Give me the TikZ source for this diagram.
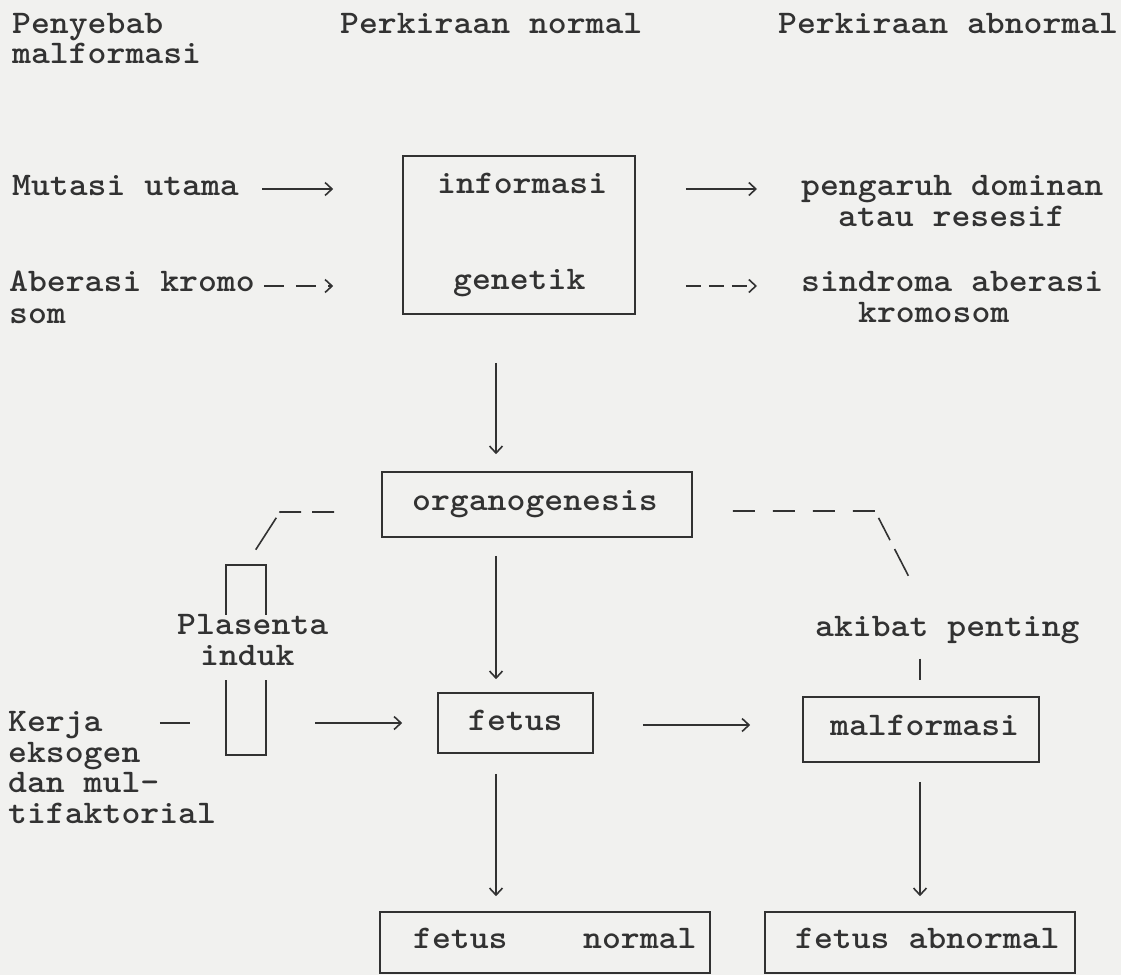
\documentclass[tikz,border=0pt]{standalone}
\usepackage{graphicx}
\usetikzlibrary{arrows.meta}
\definecolor{ink}{RGB}{50,50,50}
\definecolor{paper}{RGB}{241,241,239}
\newcommand{\tw}[1]{\scalebox{1.09}[1]{#1}}
\begin{document}
\begin{tikzpicture}[x=1pt,y=-1pt,
  every node/.style={inner sep=0pt, text=ink, font=\fontsize{33}{33}\selectfont\ttfamily\bfseries},
  lbl/.style={anchor=base west},
  box/.style={draw=ink, line width=1.6pt},
  ln/.style={draw=ink, line width=1.6pt},
  arr/.style={ln, -{Straight Barb[length=7pt,width=13pt]}},
  dsh/.style={dash pattern=on 15pt off 8pt},
  dshtwo/.style={dash pattern=on 20pt off 12pt},
  dshleft/.style={ln, dash pattern=on 22pt off 11pt on 22pt off 6pt on 40pt off 40pt},
  dshright/.style={ln, dash pattern=on 22pt off 18pt on 22pt off 18pt on 22pt off 18pt on 22pt off 8pt on 25pt off 10pt on 30pt off 40pt}]
\fill[paper] (0,0) rectangle (1121,975);
\useasboundingbox (0,0) rectangle (1121,975);

% header
\node[lbl] (h1a) at (12,33) {\tw{Penyebab}};
\node[lbl] (h1b) at (12,63) {\tw{malformasi}};
\node[lbl] (h2) at (340,33) {\tw{Perkiraan normal}};
\node[lbl] (h3) at (778,33) {\tw{Perkiraan abnormal}};

% row coordinates and columns
\coordinate (r1) at (0,189);
\coordinate (r2) at (0,286);
\coordinate (r3) at (0,725);
\coordinate (r3b) at (0,723);
\coordinate (c1) at (496,0);
\coordinate (c2) at (920,0);

% genetic information
\node[lbl] (mut) at (12,195) {\tw{Mutasi utama}};
\node[lbl] (abe) at (9,291) {\tw{Aberasi kromo}};
\node[lbl] (abe2) at (9,323) {\tw{som}};
\node[box, minimum width=232pt, minimum height=158pt] (info) at (519,235) {};
\node[lbl] (infoA) at (437,193) {\tw{informasi}};
\node[lbl] (infoB) at (453,289) {\tw{genetik}};
\node[lbl] (peng) at (801,195) {\tw{pengaruh dominan}};
\node[lbl] (atau) at (838,226) {\tw{atau resesif}};
\node[lbl] (sind) at (801,291) {\tw{sindroma aberasi}};
\node[lbl] (krom) at (858,322) {\tw{kromosom}};

\draw[arr, shorten <=23pt, shorten >=69pt] (mut.east |- r1) -- (info.west |- r1);
\draw[arr, dshtwo, shorten <=9pt, shorten >=69pt] (abe.east |- r2) -- (info.west |- r2);
\draw[arr, shorten <=50pt, shorten >=44pt] (info.east |- r1) -- (peng.west |- r1);
\draw[arr, dsh, shorten <=50pt, shorten >=44pt] (info.east |- r2) -- (sind.west |- r2);

% organogenesis
\node[box, minimum width=310pt, minimum height=65pt] (organ) at (537,504.5) {};
\node[lbl] (organT) at (412,510) {\tw{organogenesis}};
\draw[arr, shorten <=48pt, shorten >=17pt] (info.south -| c1) -- (organ.north -| c1);

% placenta
\node[minimum width=40pt, minimum height=190pt] (plac) at (246,660) {};
\draw[ln] ([yshift=-50pt]plac.north west) -- (plac.north west) -- (plac.north east) -- ([yshift=-50pt]plac.north east);
\draw[ln] ([yshift=75pt]plac.south west) -- (plac.south west) -- (plac.south east) -- ([yshift=75pt]plac.south east);
\node[lbl] (plA) at (177,634) {\tw{Plasenta}};
\node[lbl] (plB) at (200,665) {\tw{induk}};

% exogenous
\node[lbl] (k1) at (8,731) {\tw{Kerja}};
\node[lbl] (k2) at (8,762) {\tw{eksogen}};
\node[lbl] (k3) at (8,792.5) {\tw{dan mul-}};
\node[lbl] (k4) at (8,823) {\tw{tifaktorial}};

% fetus
\node[box, minimum width=155pt, minimum height=60pt] (fet) at (515.5,723) {};
\node[lbl] (fetT) at (468,730) {\tw{fetus}};
\draw[arr, shorten <=18pt, shorten >=13pt] (organ.south -| c1) -- (fet.north -| c1);
\draw[ln, shorten <=57pt, shorten >=36pt] (k1.east |- r3b) -- (plac.west |- r3b);
\draw[arr, shorten <=49pt, shorten >=35pt] (plac.east |- r3b) -- (fet.west |- r3b);

% malformation
\node[lbl] (akib) at (815,636) {\tw{akibat penting}};
\node[box, minimum width=236pt, minimum height=65pt] (malf) at (921,729.5) {};
\node[lbl] (malfT) at (830,735) {\tw{malformasi}};
\draw[arr, shorten <=49pt, shorten >=52pt] (fet.east |- r3) -- (malf.west |- r3);
\draw[ln, shorten <=15pt, shorten >=16pt] (akib.south -| c2) -- (malf.north -| c2);

% dashed links
\coordinate (lk) at (280,512);
\coordinate (rk) at (875,511);
\coordinate (rk2) at (909,577);
\draw[dshleft, shorten <=47pt, shorten >=18pt] (organ.west |- lk) -- (lk) -- (plac.north);
\draw[dshright, shorten <=40pt] (organ.east |- rk) -- (rk) -- (rk2);

% outcomes
\node[box, minimum width=330pt, minimum height=61pt] (norm) at (545,942.5) {};
\node[lbl] (normT) at (413,948) {\tw{fetus\ \ \ \ normal}};
\node[box, minimum width=310pt, minimum height=61pt] (abn) at (920,942.5) {};
\node[lbl] (abnT) at (795,948) {\tw{fetus abnormal}};
\draw[arr, shorten <=20pt, shorten >=15pt] (fet.south -| c1) -- (norm.north -| c1);
\draw[arr, shorten <=19pt, shorten >=15pt] (malf.south -| c2) -- (abn.north -| c2);
\end{tikzpicture}
\end{document}
